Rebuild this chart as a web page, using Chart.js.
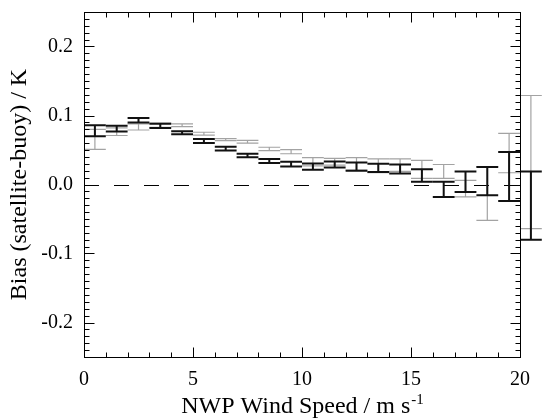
<!DOCTYPE html>
<html lang="en">
  <head>
    <meta charset="UTF-8" />
    <title>Bias vs NWP wind speed</title>
  </head>
  <style>
    * {
      margin: 0;
      padding: 0;
    }
    body {
      background: white;
    }
    .chartBox {
      width: 553px;
      height: 420px;
    }
  </style>
  <body>
    <div class="chartBox">
      <canvas id="myChart" width="553" height="420"></canvas>
    </div>

    <script src="https://cdn.jsdelivr.net/npm/chart.js"></script>

    <script>
      // data block
      const windBins = [0.5, 1.5, 2.5, 3.5, 4.5, 5.5, 6.5, 7.5, 8.5, 9.5, 10.5, 11.5, 12.5, 13.5, 14.5, 15.5, 16.5, 17.5, 18.5, 19.5, 20.5];
      const blackBias = [0.078, 0.081, 0.093, 0.085, 0.075, 0.063, 0.052, 0.042, 0.034, 0.0295, 0.026, 0.029, 0.026, 0.024, 0.0225, 0.013, -0.007, 0.004, 0.005, 0.0115, -0.0305];
      const blackErr = [0.008, 0.0043, 0.0033, 0.003, 0.002, 0.003, 0.0028, 0.0025, 0.003, 0.0035, 0.0045, 0.0045, 0.006, 0.006, 0.0065, 0.009, 0.011, 0.015, 0.0205, 0.0355, 0.0495];
      const grayBias = [0.0655, 0.0765, 0.0835, 0.086, 0.086, 0.0737, 0.065, 0.062, 0.0515, 0.0476, 0.033, 0.033, 0.03, 0.027, 0.028, 0.022, 0.019, -0.006, -0.013, 0.0455, 0.0325];
      const grayErr = [0.0145, 0.0055, 0.0045, 0.003, 0.002, 0.002, 0.0015, 0.002, 0.0025, 0.003, 0.006, 0.005, 0.009, 0.01, 0.009, 0.013, 0.01, 0.012, 0.039, 0.0285, 0.0965];
      const xTicks = [0, 5, 10, 15, 20];
      const yTicks = [-0.2, -0.1, 0.0, 0.1, 0.2];

      const serif = "'Liberation Serif', 'DejaVu Serif', serif";

      // error bar plugin block
      const errorBars = {
        id: "errorBars",
        afterDatasetsDraw(chart) {
          const { ctx, scales: { x, y } } = chart;
          ctx.save();
          // zero line, dashed
          const y0 = Math.round(y.getPixelForValue(0)) + 0.5;
          ctx.strokeStyle = "#000";
          ctx.lineWidth = 1;
          ctx.setLineDash([15, 15]);
          ctx.beginPath();
          ctx.moveTo(x.getPixelForValue(0), y0);
          ctx.lineTo(x.getPixelForValue(20), y0);
          ctx.stroke();
          ctx.setLineDash([]);

          chart.data.datasets.forEach((ds) => {
            if (!ds.err) return;
            ctx.strokeStyle = ds.barColor;
            ctx.lineWidth = ds.barWidth;
            ds.data.forEach((p, i) => {
              const e = ds.err[i];
              const xc = x.getPixelForValue(p.x);
              const x0 = x.getPixelForValue(p.x - 0.5);
              const x1 = x.getPixelForValue(p.x + 0.5);
              const yt = y.getPixelForValue(p.y + e);
              const yb = y.getPixelForValue(p.y - e);
              ctx.beginPath();
              ctx.moveTo(xc, yt);
              ctx.lineTo(xc, yb);
              ctx.moveTo(x0, yt);
              ctx.lineTo(x1, yt);
              ctx.moveTo(x0, yb);
              ctx.lineTo(x1, yb);
              ctx.stroke();
            });
          });
          ctx.restore();
        }
      };

      // box with inward ticks, IDL style
      const boxTicks = {
        id: "boxTicks",
        afterDraw(chart) {
          const { ctx, chartArea: { left, right, top, bottom }, scales: { x, y } } = chart;
          ctx.save();
          ctx.strokeStyle = "#000";
          ctx.lineWidth = 1;
          const r = (v) => Math.round(v) + 0.5;
          ctx.strokeRect(r(left), r(top), Math.round(right - left), Math.round(bottom - top));
          ctx.beginPath();
          for (let v = 0; v <= 20; v++) {
            const len = v % 5 === 0 ? 10 : 5;
            const px = r(x.getPixelForValue(v));
            ctx.moveTo(px, r(bottom)); ctx.lineTo(px, r(bottom) - len);
            ctx.moveTo(px, r(top)); ctx.lineTo(px, r(top) + len);
          }
          for (let k = -25; k <= 25; k++) {
            const len = k % 10 === 0 ? 10 : 5;
            const py = r(y.getPixelForValue(k / 100));
            ctx.moveTo(r(left), py); ctx.lineTo(r(left) + len, py);
            ctx.moveTo(r(right), py); ctx.lineTo(r(right) - len, py);
          }
          ctx.stroke();

          // x axis title with superscript
          ctx.fillStyle = "#000";
          ctx.textBaseline = "alphabetic";
          ctx.textAlign = "left";
          const main = "NWP Wind Speed / m s";
          ctx.font = `15px ${serif}`;
          const supW = ctx.measureText("-1").width;
          ctx.font = `24px ${serif}`;
          const mainW = ctx.measureText(main).width;
          const sx = (left + right) / 2 - (mainW + supW) / 2;
          ctx.fillText(main, sx, 413);
          ctx.font = `15px ${serif}`;
          ctx.fillText("-1", sx + mainW + 1, 404);
          ctx.restore();
        }
      };

      // config block
      const config = {
        type: "scatter",
        data: {
          datasets: [
            {
              data: windBins.map((w, i) => ({ x: w, y: grayBias[i] })),
              err: grayErr,
              barColor: "#a3a3a3",
              barWidth: 1.2,
              pointRadius: 0
            },
            {
              data: windBins.map((w, i) => ({ x: w, y: blackBias[i] })),
              err: blackErr,
              barColor: "#111",
              barWidth: 2,
              pointRadius: 0
            }
          ]
        },
        options: {
          responsive: false,
          animation: false,
          layout: { padding: { top: 12, right: 33, left: 0, bottom: 0 } },
          plugins: { legend: { display: false }, tooltip: { enabled: false } },
          scales: {
            x: {
              type: "linear",
              min: 0,
              max: 20,
              afterBuildTicks: (s) => { s.ticks = xTicks.map((v) => ({ value: v })); },
              afterFit: (s) => {
                s.height = 63;
                s.paddingLeft = 0;
                s.paddingRight = 0;
              },
              grid: { display: false, drawTicks: false },
              border: { display: false },
              ticks: { padding: 11, color: "#000", font: { family: serif, size: 20 } }
            },
            y: {
              min: -0.25,
              max: 0.25,
              afterBuildTicks: (s) => { s.ticks = yTicks.map((v) => ({ value: v })); },
              afterFit: (s) => {
                s.width = 84;
                s.paddingTop = 0;
                s.paddingBottom = 0;
              },
              grid: { display: false, drawTicks: false },
              border: { display: false },
              ticks: {
                padding: 11,
                color: "#000",
                font: { family: serif, size: 20 },
                callback: (v) => v.toFixed(1)
              },
              title: {
                display: true,
                text: "Bias (satellite-buoy) / K",
                color: "#000",
                font: { family: serif, size: 24 },
                padding: { top: 5, bottom: 0 }
              }
            }
          }
        },
        plugins: [errorBars, boxTicks]
      };

      // init render block
      const myChart = new Chart(document.getElementById("myChart"), config);
    </script>
  </body>
</html>
